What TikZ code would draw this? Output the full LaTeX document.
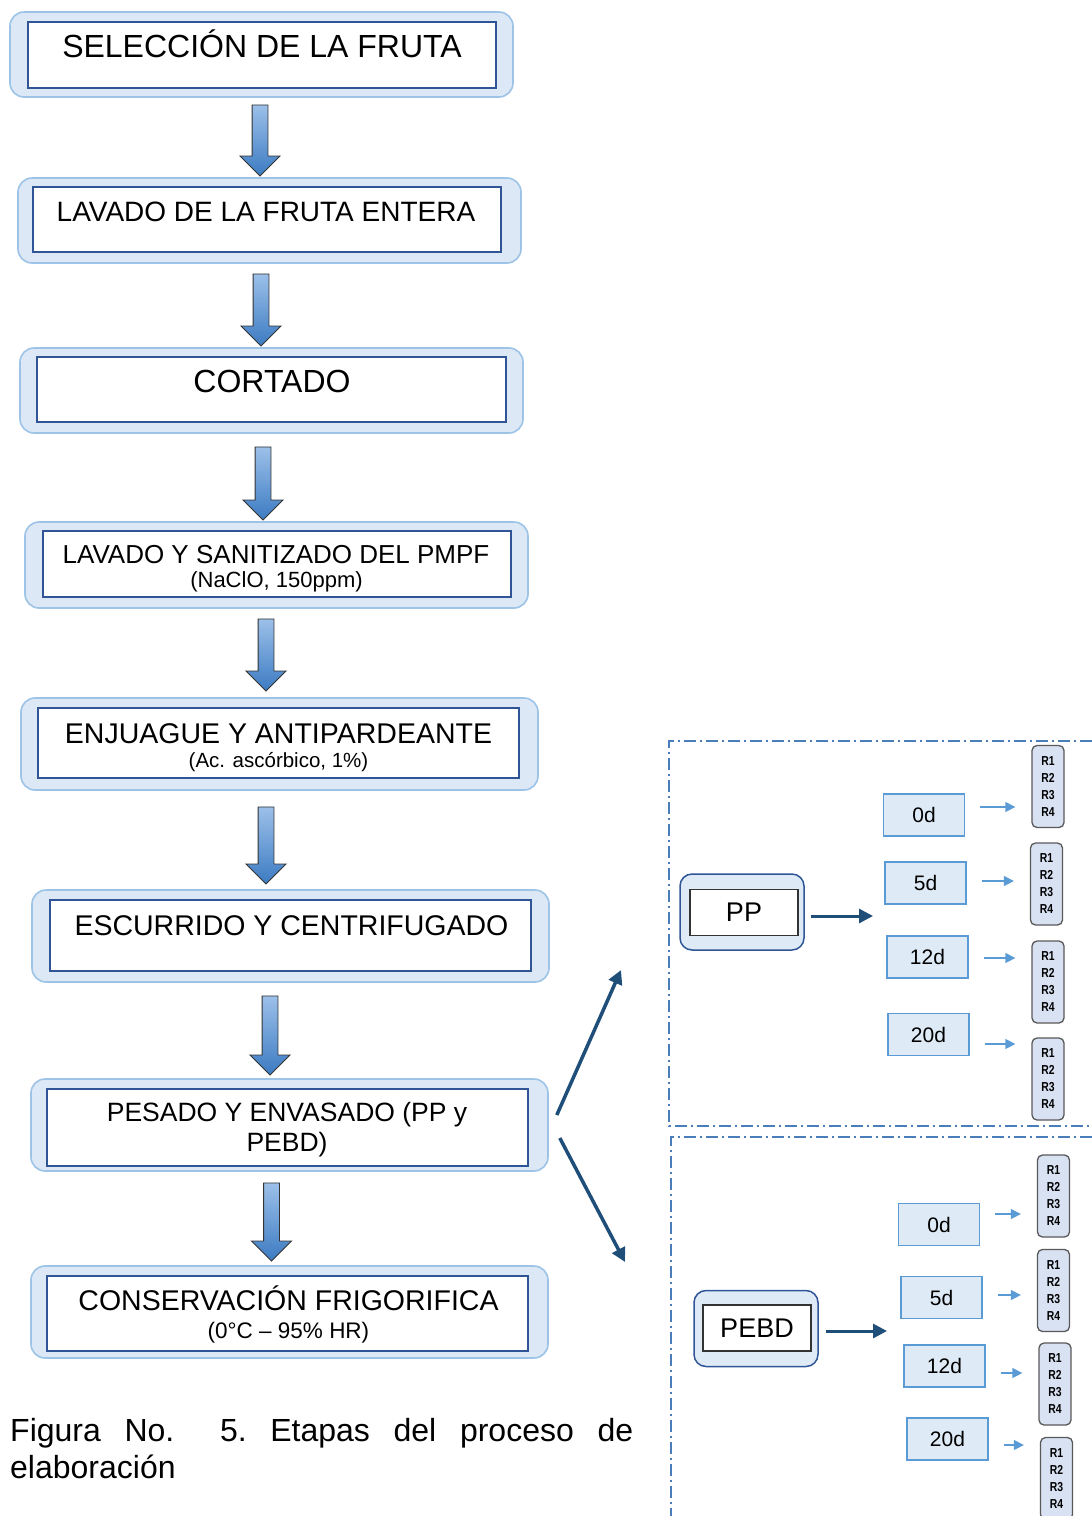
\documentclass[tikz,border=0pt]{standalone}
\usepackage{fontspec}
\setmainfont{Liberation Sans}
\newfontfamily\repfont[FakeStretch=0.8]{Liberation Sans}
\usetikzlibrary{shapes.arrows,arrows.meta}
\definecolor{stepfill}{HTML}{DCE8F6}
\definecolor{stepedge}{HTML}{9DC3E6}
\definecolor{inneredge}{HTML}{2F5597}
\definecolor{fatlight}{HTML}{9CC0E9}
\definecolor{fatdark}{HTML}{3C7BC2}
\definecolor{navy}{HTML}{1F4E79}
\definecolor{dayfill}{HTML}{DEEBF7}
\definecolor{dayedge}{HTML}{5B9BD5}
\definecolor{repfill}{HTML}{D9E2F3}
\definecolor{repedge}{HTML}{595959}
\definecolor{panel}{HTML}{4A7EBB}
\begin{document}
\begin{tikzpicture}
[   x=1pt, y=-1pt,
    outerbox/.style 2 args={draw=stepedge,fill=stepfill,line width=1.6pt,rounded corners=14pt,minimum width=#1,minimum height=#2,inner sep=0},
    innerbox/.style 2 args={draw=inneredge,fill=white,line width=1.3pt,minimum width=#1,minimum height=#2,inner sep=0},
    txt/.style={font=\fontsize{#1}{#1}\selectfont,anchor=base,inner sep=0},
    fatarrow/.style={single arrow,shape border rotate=270,draw=black!80,line width=0.9pt,top color=fatlight,bottom color=fatdark,inner sep=7.5pt,single arrow head extend=12pt,minimum height=#1},
    navyarrow/.style={draw=navy,line width=3.5pt,-{Triangle[length=14pt,width=14pt]}},
    matbox/.style={draw=inneredge,fill=dayfill,line width=1.5pt,rounded corners=12pt,minimum width=124pt,minimum height=76pt},
    matin/.style={draw=black!80,fill=white,line width=1.4pt,minimum width=108pt,minimum height=46pt,inner sep=0,font=\fontsize{27}{27}\selectfont},
    daybox/.style={draw=dayedge,fill=dayfill,line width=1.3pt,minimum width=81pt,minimum height=42pt,inner sep=0,font=\fontsize{21}{21}\selectfont},
    repbox/.style={draw=repedge,fill=repfill,line width=1.3pt,rounded corners=5pt,minimum width=32pt,minimum height=82pt,inner sep=0,align=center,font=\repfont\bfseries\fontsize{13}{17}\selectfont},
    thinarrow/.style={draw=dayedge,line width=1.3pt,-{Triangle[length=10pt,width=10pt]},shorten <=15pt,shorten >=16pt},
    panelline/.style={draw=panel,line width=1.2pt,dash pattern=on 12pt off 4pt on 2pt off 4pt},
]
\useasboundingbox (0,0) rectangle (1092,1516);

\node[outerbox={503pt}{85pt}] (o1) at (261.5,54.5) {};
\node[innerbox={468pt}{66pt}] (b1) at (262,55) {};
\node[txt=32] (t1) at (262,57.5) {SELECCIÓN DE LA FRUTA};

\node[outerbox={503pt}{85pt}] (o2) at (269.5,220.5) {};
\node[innerbox={468pt}{65pt}] (b2) at (267,219.5) {};
\node[txt=28] (t2) at (266,221) {LAVADO DE LA FRUTA ENTERA};

\node[outerbox={503pt}{85pt}] (o3) at (271.5,390.5) {};
\node[innerbox={469pt}{65pt}] (b3) at (271.5,389.5) {};
\node[txt=32] (t3) at (272,392) {CORTADO};

\node[outerbox={503pt}{86pt}] (o4) at (276.5,565) {};
\node[innerbox={468pt}{66pt}] (b4) at (277,564) {};
\node[txt=26] (t4) at (276,563) {LAVADO Y SANITIZADO DEL PMPF};
\node[txt=22] (t4b) at (276.5,587) {(NaClO, 150ppm)};

\node[outerbox={517pt}{92pt}] (o5) at (279.5,744) {};
\node[innerbox={481pt}{70pt}] (b5) at (278.5,743) {};
\node[txt=28.5] (t5) at (278.5,743) {ENJUAGUE Y ANTIPARDEANTE};
\node[txt=20.5] (t5b) at (278.5,767) {(Ac. ascórbico, 1\%)};

\node[outerbox={517pt}{92pt}] (o6) at (290.5,936) {};
\node[innerbox={481pt}{71pt}] (b6) at (290.5,935.5) {};
\node[txt=28.5] (t6) at (291.5,935) {ESCURRIDO Y CENTRIFUGADO};

\node[outerbox={517pt}{92pt}] (o7) at (289.5,1125) {};
\node[innerbox={481pt}{77pt}] (b7) at (287.5,1127.5) {};
\node[txt=26.5] (t7) at (287,1121) {PESADO Y ENVASADO (PP y};
\node[txt=26.5] (t7b) at (287,1151) {PEBD)};

\node[outerbox={517pt}{92pt}] (o8) at (289.5,1312) {};
\node[innerbox={481pt}{75pt}] (b8) at (287.5,1313.5) {};
\node[txt=28.5] (t8) at (288.5,1310) {CONSERVACIÓN FRIGORIFICA};
\node[txt=22.5] (t8b) at (288.5,1338) {(0°C – 95\% HR)};

\node[fatarrow=71pt] (a1) at (260,136.5) {};
\node[fatarrow=72pt] (a2) at (261,306) {};
\node[fatarrow=73pt] (a3) at (263,479.5) {};
\node[fatarrow=72pt] (a4) at (266,651) {};
\node[fatarrow=77pt] (a5) at (266,841.5) {};
\node[fatarrow=79pt] (a6) at (270,1031.5) {};
\node[fatarrow=78pt] (a7) at (271.5,1218) {};

\coordinate (up) at (621,970);
\coordinate (dn) at (625,1262);
\draw[navyarrow] ([shift={(8pt,10pt)}]o7.east) -- (up);
\draw[navyarrow] ([shift={(11pt,-13pt)}]o7.east) -- (dn);

\node[txt=32,anchor=base west] (cap) at (10,1441) {\frenchspacing\makebox[623pt][s]{Figura No.\hspace{22pt} 5. Etapas del proceso de}};
\node[txt=32,anchor=base west] (cap2) at (10,1478) {elaboración};

\draw[panelline] (1092,741) -- (669,741) -- (669,1126) -- (1092,1126);
\draw[panelline] (1092,1137) -- (671,1137) -- (671,1516);

\node[matbox] (ppo) at (742,912) {};
\node[matin] (pp) at (744,912.5) {PP};
\node[matbox] (pebdo) at (756,1328.5) {};
\node[matin] (pebd) at (757,1328) {PEBD};

\coordinate (ppend) at (873,916);
\coordinate (pebdend) at (887,1331);
\draw[navyarrow,line width=3pt,shorten <=6pt] (ppo.east |- ppend) -- (ppend);
\draw[navyarrow,line width=3pt,shorten <=7pt] (pebdo.east |- pebdend) -- (pebdend);

\node[daybox] (d1) at (924,815) {0d};
\node[daybox] (d2) at (925.5,883) {5d};
\node[daybox] (d3) at (927.5,957) {12d};
\node[daybox] (d4) at (928.5,1034.5) {20d};
\node[daybox] (e1) at (939,1224.5) {0d};
\node[daybox] (e2) at (941.5,1297.5) {5d};
\node[daybox] (e3) at (944.5,1366) {12d};
\node[daybox] (e4) at (947.5,1439) {20d};

\node[repbox] (r1) at (1048,786.5) {R1\\R2\\R3\\R4};
\node[repbox] (r2) at (1046.5,884) {R1\\R2\\R3\\R4};
\node[repbox] (r3) at (1048,982) {R1\\R2\\R3\\R4};
\node[repbox] (r4) at (1048,1079) {R1\\R2\\R3\\R4};
\node[repbox] (r5) at (1053.5,1196) {R1\\R2\\R3\\R4};
\node[repbox] (r6) at (1053.5,1290.5) {R1\\R2\\R3\\R4};
\node[repbox] (r7) at (1055,1384) {R1\\R2\\R3\\R4};
\node[repbox] (r8) at (1056.5,1478.5) {R1\\R2\\R3\\R4};

\draw[thinarrow] (d1.east |- 0,807) -- (r1.west |- 0,807);
\draw[thinarrow] (d2.east |- 0,881) -- (r2.west |- 0,881);
\draw[thinarrow] (d3.east |- 0,958) -- (r3.west |- 0,958);
\draw[thinarrow] (d4.east |- 0,1044) -- (r4.west |- 0,1044);
\draw[thinarrow] (e1.east |- 0,1214) -- (r5.west |- 0,1214);
\draw[thinarrow] (e2.east |- 0,1295) -- (r6.west |- 0,1295);
\draw[thinarrow] (e3.east |- 0,1373) -- (r7.west |- 0,1373);
\draw[thinarrow] (e4.east |- 0,1445) -- (r8.west |- 0,1445);

\end{tikzpicture}
\end{document}
